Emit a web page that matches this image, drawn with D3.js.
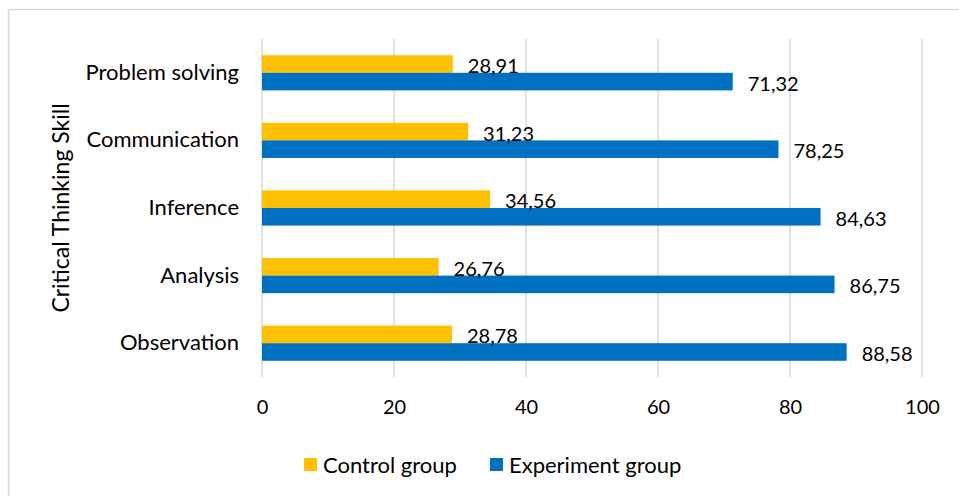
<!DOCTYPE html>
<html>
<head>
<meta charset="utf-8">
<script src="https://cdn.jsdelivr.net/npm/d3@7"></script>
<style>
  body { margin: 0; background: #fff; }
  svg { display: block; font-family: Lato, "Open Sans", sans-serif; }
</style>
</head>
<body>
<svg id="chart" width="959" height="496"></svg>
<script>
const categories = ["Problem solving", "Communication", "Inference", "Analysis", "Observation"];
const seriesNames = ["Control group", "Experiment group"];
const controlValues = [28.91, 31.23, 34.56, 26.76, 28.78];
const experimentValues = [71.32, 78.25, 84.63, 86.75, 88.58];
const xTicks = [0, 20, 40, 60, 80, 100];
const colors = ["#FFC000", "#0070C0"];

const width = 959, height = 496;
const margin = {top: 39, right: 37, bottom: 119, left: 262};

const data = categories.map((c, i) => ({
    category: c,
    values: [controlValues[i], experimentValues[i]]
}));

const svg = d3.select("#chart");

// chart frame
svg.append("rect")
    .attr("x", 8.5).attr("y", 9.5)
    .attr("width", 960).attr("height", 500)
    .attr("fill", "none")
    .attr("stroke", "#d9d9d9")
    .attr("stroke-width", 1.5);

let x = d3.scaleLinear()
    .domain([0, 100])
    .range([margin.left, width - margin.right]);

let y = d3.scaleBand()
    .domain(categories)
    .range([margin.top, height - margin.bottom])
    .paddingInner(0.48)
    .paddingOuter(0.24);

let ySub = d3.scaleBand()
    .domain(seriesNames)
    .range([0, y.bandwidth()]);

// gridlines
svg.append("g")
    .selectAll("line")
    .data(xTicks)
    .join("line")
    .attr("x1", d => x(d)).attr("x2", d => x(d))
    .attr("y1", margin.top).attr("y2", height - margin.bottom)
    .attr("stroke", "#d9d9d9")
    .attr("stroke-width", 1.5);

// x axis labels
svg.append("g")
    .attr("transform", `translate(0,${height - margin.bottom})`)
    .call(d3.axisBottom(x).tickValues(xTicks).tickSize(0).tickPadding(23))
    .call(g => g.select(".domain").remove())
    .call(g => g.selectAll("text")
        .attr("font-size", 20)
        .attr("font-family", "Lato, sans-serif")
        .attr("fill", "#000"));

// y axis labels
svg.append("g")
    .attr("transform", `translate(${margin.left},0)`)
    .call(d3.axisLeft(y).tickSize(0).tickPadding(23))
    .call(g => g.select(".domain").remove())
    .call(g => g.selectAll("text")
        .attr("font-size", 22)
        .attr("font-family", "Lato, sans-serif")
        .attr("fill", "#000"));

// bars
const groups = svg.append("g")
    .selectAll("g")
    .data(data)
    .join("g")
    .attr("transform", d => `translate(0,${y(d.category)})`);

groups.selectAll("rect")
    .data(d => d.values.map((v, i) => ({key: seriesNames[i], value: v, i})))
    .join("rect")
    .attr("x", x(0))
    .attr("y", d => ySub(d.key))
    .attr("width", d => x(d.value) - x(0))
    .attr("height", ySub.bandwidth())
    .attr("fill", d => colors[d.i]);

groups.selectAll("text")
    .data(d => d.values.map((v, i) => ({key: seriesNames[i], value: v, i})))
    .join("text")
    .attr("x", d => x(d.value) + 15)
    .attr("y", d => ySub(d.key) + ySub.bandwidth() / 2 + 2)
    .attr("dy", "0.35em")
    .attr("font-size", 20)
    .attr("fill", "#000")
    .text(d => d.value.toFixed(2).replace(".", ","));

// axis title
svg.append("text")
    .attr("transform", `translate(61,${(margin.top + height - margin.bottom) / 2}) rotate(-90)`)
    .attr("text-anchor", "middle")
    .attr("dy", "0.35em")
    .attr("font-size", 23)
    .attr("fill", "#000")
    .text("Critical Thinking Skill");

// legend
const legendX = [304, 490];
const legend = svg.append("g")
    .selectAll("g")
    .data(seriesNames)
    .join("g")
    .attr("transform", (d, i) => `translate(${legendX[i]},458)`);

legend.append("rect")
    .attr("width", 13).attr("height", 13)
    .attr("fill", (d, i) => colors[i]);

legend.append("text")
    .attr("x", 19).attr("y", 7)
    .attr("dy", "0.35em")
    .attr("font-size", 22)
    .attr("fill", "#000")
    .text(d => d);
</script>
</body>
</html>
